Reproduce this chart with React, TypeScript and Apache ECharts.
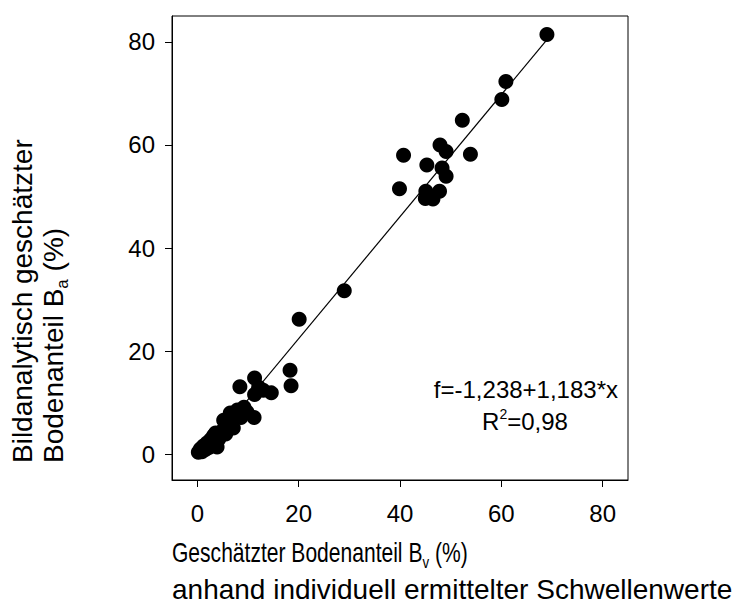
import React, { useEffect, useRef } from "react";
import * as echarts from "echarts";

// Measured points (Geschätzter Bodenanteil Bv, Bildanalytisch geschätzter Bodenanteil Ba)
const pointsX = [
  0.2, 0.6, 0.9, 1.2, 1.6, 1.9, 2.3, 2.6, 3.0, 3.2, 3.6, 3.9, 4.2, 4.6, 5.0, 5.2, 5.6, 6.0, 6.6, 7.1,
  7.4, 7.9, 8.6, 9.2, 9.8, 11.2, 11.3, 12.1, 11.3, 8.4, 14.6, 13.0, 6.5,
  18.3, 18.5, 20.1, 29.0,
  39.9, 40.7, 45.0, 45.1, 45.3, 46.5, 47.8, 47.9, 48.3, 49.1, 49.1, 52.3, 53.9,
  60.1, 60.9, 69.0,
];
const pointsY = [
  0.4, 1.0, 0.5, 1.6, 0.9, 2.2, 1.3, 2.8, 1.9, 3.6, 4.1, 1.4, 2.9, 3.6, 4.6, 6.6, 3.9, 5.6, 6.9, 5.1,
  7.6, 8.6, 7.1, 9.1, 8.2, 7.1, 11.6, 13.0, 14.8, 13.1, 11.9, 12.4, 8.0,
  16.3, 13.3, 26.2, 31.7,
  51.5, 58.0, 49.6, 51.0, 56.1, 49.5, 51.0, 60.0, 55.5, 58.7, 53.9, 64.8, 58.2,
  68.8, 72.3, 81.4,
];

// Regression line endpoints f = -1.238 + 1.183*x
const fitX = [0.5, 69.3];
const fitY = [-0.65, 80.74];

const xTicks = [0, 20, 40, 60, 80];
const yTicks = [0, 20, 40, 60, 80];

const FONT = "'Liberation Sans', Arial, Helvetica, sans-serif";

export default function App() {
  const ref = useRef<HTMLDivElement>(null);
  useEffect(() => {
    document.body.style.margin = "0";
    if (!ref.current) return;
    const chart = echarts.init(ref.current, undefined, { renderer: "svg" });
    const scatterData = pointsX.map((x, i) => [x, pointsY[i]]);
    const fitData = fitX.map((x, i) => [x, fitY[i]]);
    chart.setOption({
      animation: false,
      backgroundColor: "#fff",
      textStyle: { fontFamily: FONT },
      grid: {
        left: 172,
        right: 110,
        top: 16,
        bottom: 124,
        show: true,
        borderColor: "#000",
        borderWidth: 1,
      },
      xAxis: {
        type: "value",
        min: -5,
        max: 85,
        splitLine: { show: false },
        axisLine: { show: true, onZero: false, lineStyle: { color: "#000", width: 1 } },
        axisTick: {
          show: true,
          length: 7,
          inside: false,
          customValues: xTicks,
          lineStyle: { color: "#000", width: 1 },
        },
        axisLabel: {
          customValues: xTicks,
          margin: 21,
          color: "#000",
          fontSize: 24,
          fontFamily: FONT,
        },
      },
      yAxis: {
        type: "value",
        min: -5,
        max: 85,
        splitLine: { show: false },
        axisLine: { show: true, onZero: false, lineStyle: { color: "#000", width: 1 } },
        axisTick: {
          show: true,
          length: 7,
          inside: false,
          customValues: yTicks,
          lineStyle: { color: "#000", width: 1 },
        },
        axisLabel: {
          customValues: yTicks,
          margin: 17,
          color: "#000",
          fontSize: 24,
          fontFamily: FONT,
        },
      },
      series: [
        {
          type: "line",
          data: fitData,
          symbol: "none",
          lineStyle: { color: "#000", width: 1.2 },
          z: 3,
        },
        {
          type: "scatter",
          data: scatterData,
          symbol: "circle",
          symbolSize: 15,
          itemStyle: { color: "#000", opacity: 1 },
          z: 2,
        },
      ],
      graphic: [
        {
          type: "text",
          x: 618,
          y: 389,
          style: {
            text: "f=-1,238+1,183*x",
            font: `24px ${FONT}`,
            fill: "#000",
            textAlign: "right",
            textVerticalAlign: "middle",
          },
        },
        {
          type: "text",
          x: 525,
          y: 421,
          style: {
            text: "R{sup|2}=0,98",
            font: `24px ${FONT}`,
            fill: "#000",
            textAlign: "center",
            textVerticalAlign: "middle",
            rich: {
              sup: { fontSize: 14, fontFamily: FONT, verticalAlign: "top", lineHeight: 28 },
            },
          },
        },
        {
          type: "text",
          x: 172,
          y: 553,
          scaleX: 0.78,
          style: {
            text: "Geschätzter Bodenanteil B{sub|v} (%)",
            font: `27px ${FONT}`,
            fill: "#000",
            textAlign: "left",
            textVerticalAlign: "middle",
            rich: {
              sub: { fontSize: 17, fontFamily: FONT, verticalAlign: "bottom", lineHeight: 35 },
            },
          },
        },
        {
          type: "text",
          x: 172,
          y: 589,
          style: {
            text: "anhand individuell ermittelter Schwellenwerte",
            font: `28px ${FONT}`,
            fill: "#000",
            textAlign: "left",
            textVerticalAlign: "middle",
          },
        },
        {
          type: "text",
          x: 22,
          y: 463,
          rotation: Math.PI / 2,
          style: {
            text: "Bildanalytisch geschätzter",
            font: `28px ${FONT}`,
            fill: "#000",
            textAlign: "left",
            textVerticalAlign: "middle",
          },
        },
        {
          type: "text",
          x: 53,
          y: 463,
          rotation: Math.PI / 2,
          style: {
            text: "Bodenanteil B{sub|a} (%)",
            font: `28px ${FONT}`,
            fill: "#000",
            textAlign: "left",
            textVerticalAlign: "middle",
            rich: {
              sub: { fontSize: 17, fontFamily: FONT, verticalAlign: "bottom", lineHeight: 36 },
            },
          },
        },
      ],
    });
    return () => chart.dispose();
  }, []);
  return <div ref={ref} style={{ width: 738, height: 604 }} />;
}
